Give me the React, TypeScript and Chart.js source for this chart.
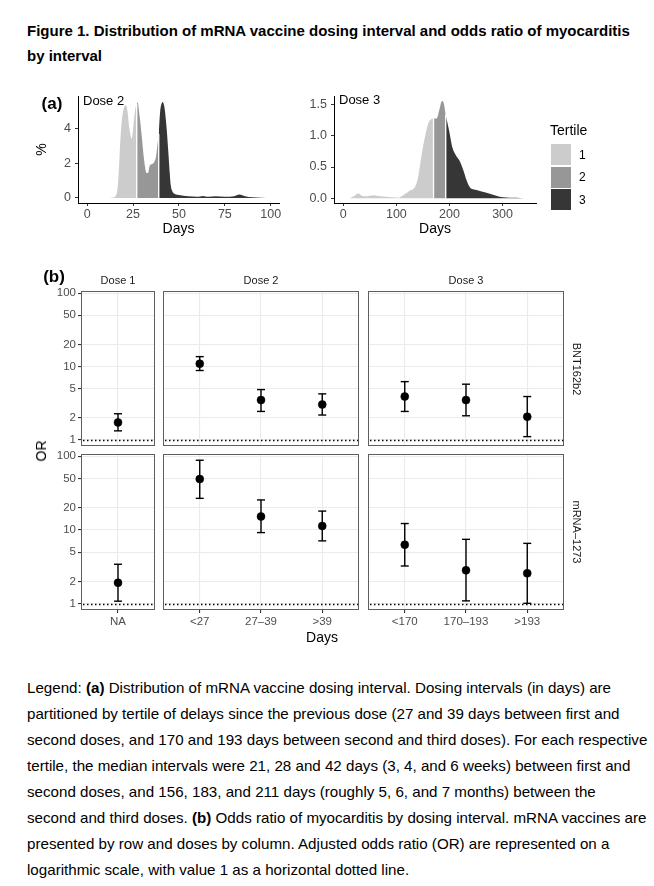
import React, { useEffect, useRef } from "react";
import { Chart, registerables } from "chart.js";

Chart.register(...registerables);

const FONT = '"Liberation Sans", Arial, Helvetica, sans-serif';

// ---------- Panel (a): distribution of dosing interval (%), by tertile ----------
const TERTILE_LABELS = ["1", "2", "3"];
const TERTILE_COLORS = ["#cccccc", "#979797", "#363636"];

const dose2T1Days = [12, 14, 15.5, 16.5, 17.2, 18, 18.8, 20, 21, 22, 23, 24.3, 25.2, 26.3, 27];
const dose2T1Pct = [0, 0.03, 0.12, 0.5, 1.5, 3.2, 4.4, 5.2, 5.37, 5.0, 4.0, 3.43, 4.2, 5.2, 5.45];
const dose2T2Days = [27, 27.5, 28.5, 29.7, 31, 32.3, 33.2, 34, 35, 36.4, 37.5, 38.4, 39];
const dose2T2Pct = [5.45, 5.52, 4.8, 3.6, 2.2, 1.45, 1.45, 1.85, 1.95, 2.05, 2.4, 3.2, 3.7];
const dose2T3Days = [39, 39.7, 40.5, 41.1, 42, 43.3, 44.2, 45, 45.5, 46.6, 48, 50, 55, 60, 63, 66, 70, 75, 80, 83, 86, 90, 95, 100];
const dose2T3Pct = [3.7, 4.95, 5.45, 5.56, 5.3, 4.0, 2.67, 1.4, 0.76, 0.34, 0.22, 0.17, 0.1, 0.07, 0.12, 0.07, 0.1, 0.07, 0.1, 0.2, 0.1, 0.04, 0.02, 0];

const dose3T1Days = [12, 20, 28, 36, 45, 56, 66, 75, 85, 94, 103, 110, 116, 125, 135, 141, 147, 154, 160, 166, 170];
const dose3T1Pct = [0, 0.03, 0.075, 0.035, 0.03, 0.045, 0.035, 0.025, 0.02, 0.015, 0.005, 0.03, 0.065, 0.12, 0.18, 0.34, 0.67, 0.99, 1.2, 1.27, 1.28];
const dose3T2Days = [170, 176, 181, 186, 189, 193];
const dose3T2Pct = [1.28, 1.28, 1.42, 1.56, 1.53, 1.34];
const dose3T3Days = [193, 199, 206, 212, 219, 226, 232, 238, 251, 270, 288, 301, 326, 340];
const dose3T3Pct = [1.33, 1.1, 0.8, 0.69, 0.6, 0.45, 0.29, 0.18, 0.13, 0.086, 0.04, 0.015, 0.005, 0];

const dose2XTicks = [0, 25, 50, 75, 100];
const dose2YTicks = [0, 2, 4];
const dose3XTicks = [0, 100, 200, 300];
const dose3YTicks = [0, 0.5, 1, 1.5];

// ---------- Panel (b): odds ratio of myocarditis by interval ----------
const dose1Cats = ["NA"];
const dose2Cats = ["<27", "27–39", ">39"];
const dose3Cats = ["<170", "170–193", ">193"];

const bntD1Or = [1.72];
const bntD1Lo = [1.32];
const bntD1Hi = [2.26];
const bntD2Or = [10.9, 3.47, 3.02];
const bntD2Lo = [8.8, 2.43, 2.17];
const bntD2Hi = [13.6, 4.83, 4.22];
const bntD3Or = [3.88, 3.47, 2.06];
const bntD3Lo = [2.43, 2.12, 1.1];
const bntD3Hi = [6.2, 5.72, 3.88];

const mrnaD1Or = [1.92];
const mrnaD1Lo = [1.08];
const mrnaD1Hi = [3.42];
const mrnaD2Or = [48.9, 15.2, 11.3];
const mrnaD2Lo = [26.8, 9.2, 7.1];
const mrnaD2Hi = [88, 25.5, 18.0];
const mrnaD3Or = [6.29, 2.83, 2.58];
const mrnaD3Lo = [3.24, 1.09, 1.01];
const mrnaD3Hi = [12.2, 7.45, 6.57];

const OR_TICKS = [1, 2, 5, 10, 20, 50, 100];
const REF_OR = 1;

// ---------- layout (page pixels) ----------
const PAD = 12;
const TICK_GREY = "#4d4d4d";

type Area = { l: number; t: number; r: number; b: number };

const ORCOLS: [number, number][] = [[81, 155], [163, 359], [368, 564]];
const ORROWS: [number, number][] = [[291, 446], [454, 610]];

function ChartCanvas(props: { left: number; top: number; width: number; height: number; make: () => any }) {
  const ref = useRef<HTMLCanvasElement | null>(null);
  useEffect(() => {
    const chart = new Chart(ref.current as HTMLCanvasElement, props.make());
    return () => chart.destroy();
  }, []);
  return (
    <canvas
      ref={ref}
      width={props.width}
      height={props.height}
      style={{ position: "absolute", left: props.left, top: props.top, width: props.width, height: props.height }}
    />
  );
}

// ---------- density chart ----------
function densityChart(opts: {
  area: Area;
  days: number[][];
  pct: number[][];
  xMin: number; xMax: number; yMin: number; yMax: number;
  xTicks: number[]; yTicks: number[];
  yFmt: (v: number) => string;
  yTitle?: string;
}) {
  const yW = 48;
  const xH = 37;
  const left = opts.area.l - yW;
  const top = opts.area.t - PAD;
  const width = opts.area.r + PAD - left;
  const height = opts.area.b + xH - top;
  const fills = opts.days.map((d, i) => ({
    data: d.map((x, j) => ({ x, y: opts.pct[i][j] })),
    fill: "origin",
    backgroundColor: TERTILE_COLORS[i],
    borderColor: "rgba(0,0,0,0)",
    borderWidth: 0,
    pointRadius: 0,
    cubicInterpolationMode: "monotone",
  }));
  const sep: any[] = [];
  opts.days.slice(0, -1).forEach((d, i) => {
    const n = d.length - 1;
    sep.push({ x: d[n], y: 0 }, { x: d[n], y: opts.pct[i][n] }, { x: d[n], y: null });
  });
  const make = () => ({
    type: "line",
    data: {
      datasets: [
        { data: sep, borderColor: "#ffffff", borderWidth: 1.3, pointRadius: 0, spanGaps: false, fill: false },
        ...fills,
      ],
    },
    options: {
      animation: false,
      responsive: false,
      events: [],
      layout: { padding: { left: 0, right: PAD, top: PAD, bottom: 0 } },
      plugins: { legend: { display: false }, tooltip: { enabled: false } },
      scales: {
        x: {
          type: "linear",
          min: opts.xMin,
          max: opts.xMax,
          afterBuildTicks: (s: any) => { s.ticks = opts.xTicks.map((v) => ({ value: v })); },
          afterFit: (s: any) => { s.height = xH; },
          ticks: { color: TICK_GREY, font: { family: FONT, size: 12.5 }, padding: 1, maxRotation: 0, autoSkip: false, callback: (v: any) => String(v) },
          grid: { drawOnChartArea: false, drawTicks: true, tickLength: 3, tickColor: "#333333" },
          border: { display: true, color: "#000000", width: 1 },
          title: { display: true, text: "Days", color: "#000000", font: { family: FONT, size: 14 }, padding: { top: 0, bottom: 2 } },
        },
        y: {
          type: "linear",
          min: opts.yMin,
          max: opts.yMax,
          afterBuildTicks: (s: any) => { s.ticks = opts.yTicks.map((v) => ({ value: v })); },
          afterFit: (s: any) => { s.width = yW; },
          ticks: { color: TICK_GREY, font: { family: FONT, size: 12.5 }, padding: 4, callback: (v: any) => opts.yFmt(v) },
          grid: { drawOnChartArea: false, drawTicks: true, tickLength: 3, tickColor: "#333333" },
          border: { display: true, color: "#000000", width: 1 },
          title: {
            display: !!opts.yTitle,
            text: opts.yTitle || "",
            color: "#000000",
            font: { family: FONT, size: 14 },
            padding: { top: 4, bottom: 0 },
          },
        },
      },
    },
  });
  return { left, top, width, height, make };
}

// ---------- odds ratio facet panel ----------
const panelBorder = {
  id: "panelBorder",
  afterDraw(chart: any) {
    const { ctx, chartArea: a } = chart;
    ctx.save();
    ctx.strokeStyle = "#5e5e5e";
    ctx.lineWidth = 1;
    ctx.strokeRect(Math.round(a.left) + 0.5, Math.round(a.top) + 0.5, Math.round(a.right - a.left) - 1, Math.round(a.bottom - a.top) - 1);
    ctx.restore();
  },
};

const refLine = {
  id: "refLine",
  beforeDatasetsDraw(chart: any) {
    const { ctx, chartArea: a } = chart;
    const y = Math.round(chart.scales.y.getPixelForValue(REF_OR)) + 0.5;
    ctx.save();
    ctx.strokeStyle = "#000000";
    ctx.lineWidth = 1.5;
    ctx.setLineDash([1.5, 2.5]);
    ctx.beginPath();
    ctx.moveTo(a.left + 2, y);
    ctx.lineTo(a.right - 1, y);
    ctx.stroke();
    ctx.restore();
  },
};

function orChart(opts: {
  col: number; row: number; cats: string[]; or: number[]; lo: number[]; hi: number[];
}) {
  const showY = opts.col === 0;
  const showX = opts.row === 1;
  const yW = showY ? 52 : 0;
  const xH = showX ? 22 : 0;
  const [al, ar] = ORCOLS[opts.col];
  const [at, ab] = ORROWS[opts.row];
  const left = al - (showY ? yW : PAD);
  const top = at - PAD;
  const width = ar + PAD - left;
  const height = ab + (showX ? xH : PAD) - top;
  const cats = opts.cats;
  const pts = cats.map((_, i) => ({ x: i + 1, y: opts.or[i] }));
  const bars: any[] = [];
  const caps: any[] = [];
  cats.forEach((_, i) => {
    bars.push({ x: i + 1, y: opts.lo[i] }, { x: i + 1, y: opts.hi[i] }, { x: i + 1, y: null });
    caps.push({ x: i + 1, y: opts.lo[i] }, { x: i + 1, y: opts.hi[i] });
  });
  const make = () => ({
    type: "line",
    data: {
      datasets: [
        { data: pts, showLine: false, pointStyle: "circle", pointRadius: 4, pointBackgroundColor: "#000000", pointBorderColor: "#000000", pointBorderWidth: 0.5 },
        { data: bars, borderColor: "#000000", borderWidth: 1.4, pointRadius: 0, spanGaps: false, fill: false },
        { data: caps, showLine: false, pointStyle: "line", pointRadius: 4, pointBorderColor: "#000000", pointBorderWidth: 1.4 },
      ],
    },
    plugins: [refLine, panelBorder],
    options: {
      animation: false,
      responsive: false,
      events: [],
      layout: { padding: { left: showY ? 0 : PAD, right: PAD, top: PAD, bottom: showX ? 0 : PAD } },
      plugins: { legend: { display: false }, tooltip: { enabled: false } },
      scales: {
        x: {
          type: "linear",
          min: 0.4,
          max: cats.length + 0.6,
          afterBuildTicks: (s: any) => { s.ticks = cats.map((_, i) => ({ value: i + 1 })); },
          afterFit: (s: any) => { s.height = xH; },
          ticks: {
            display: showX,
            color: TICK_GREY,
            font: { family: FONT, size: 11.5 },
            padding: 2,
            maxRotation: 0,
            autoSkip: false,
            callback: (v: any) => cats[Math.round(v) - 1],
          },
          grid: { color: "#ebebeb", lineWidth: 1.1, drawTicks: showX, tickLength: 3, tickColor: "#333333" },
          border: { display: false },
        },
        y: {
          type: "logarithmic",
          min: 0.82,
          max: 107,
          afterBuildTicks: (s: any) => { s.ticks = OR_TICKS.map((v) => ({ value: v })); },
          afterFit: (s: any) => { s.width = yW; },
          ticks: { display: showY, color: TICK_GREY, font: { family: FONT, size: 11.5 }, padding: 2, callback: (v: any) => String(v) },
          grid: { color: "#ebebeb", lineWidth: 1.1, drawTicks: showY, tickLength: 3, tickColor: "#333333" },
          border: { display: false },
        },
      },
    },
  });
  return { left, top, width, height, make };
}

// ---------- text helper ----------
function Txt(p: {
  x: number; y: number; size: number; children: React.ReactNode;
  bold?: boolean; color?: string; center?: boolean; rotate?: number;
}) {
  const tr = p.center
    ? `translate(-50%, -50%)${p.rotate ? ` rotate(${p.rotate}deg)` : ""}`
    : "translateY(-50%)";
  return (
    <div
      style={{
        position: "absolute",
        left: p.x,
        top: p.y,
        transform: tr,
        fontFamily: FONT,
        fontSize: p.size,
        fontWeight: p.bold ? 700 : 400,
        color: p.color || "#000000",
        whiteSpace: "nowrap",
        lineHeight: 1,
      }}
    >
      {p.children}
    </div>
  );
}

const PARA_LINES: React.ReactNode[] = [
  <>Legend: <b>(a)</b> Distribution of mRNA vaccine dosing interval. Dosing intervals (in days) are</>,
  <>partitioned by tertile of delays since the previous dose (27 and 39 days between first and</>,
  <>second doses, and 170 and 193 days between second and third doses). For each respective</>,
  <>tertile, the median intervals were 21, 28 and 42 days (3, 4, and 6 weeks) between first and</>,
  <>second doses, and 156, 183, and 211 days (roughly 5, 6, and 7 months) between the</>,
  <>second and third doses. <b>(b)</b> Odds ratio of myocarditis by dosing interval. mRNA vaccines are</>,
  <>presented by row and doses by column. Adjusted odds ratio (OR) are represented on a</>,
  <>logarithmic scale, with value 1 as a horizontal dotted line.</>,
];

export default function App() {
  const d2 = densityChart({
    area: { l: 78, t: 96, r: 279, b: 203 },
    days: [dose2T1Days, dose2T2Days, dose2T3Days],
    pct: [dose2T1Pct, dose2T2Pct, dose2T3Pct],
    xMin: -5, xMax: 104.5, yMin: -0.29, yMax: 5.9,
    xTicks: dose2XTicks, yTicks: dose2YTicks,
    yFmt: (v) => String(v),
    yTitle: "%",
  });
  const d3 = densityChart({
    area: { l: 334, t: 96, r: 536, b: 203 },
    days: [dose3T1Days, dose3T2Days, dose3T3Days],
    pct: [dose3T1Pct, dose3T2Pct, dose3T3Pct],
    xMin: -17.5, xMax: 363, yMin: -0.078, yMax: 1.64,
    xTicks: dose3XTicks, yTicks: dose3YTicks,
    yFmt: (v) => Number(v).toFixed(1),
  });

  const panels = [
    orChart({ col: 0, row: 0, cats: dose1Cats, or: bntD1Or, lo: bntD1Lo, hi: bntD1Hi }),
    orChart({ col: 1, row: 0, cats: dose2Cats, or: bntD2Or, lo: bntD2Lo, hi: bntD2Hi }),
    orChart({ col: 2, row: 0, cats: dose3Cats, or: bntD3Or, lo: bntD3Lo, hi: bntD3Hi }),
    orChart({ col: 0, row: 1, cats: dose1Cats, or: mrnaD1Or, lo: mrnaD1Lo, hi: mrnaD1Hi }),
    orChart({ col: 1, row: 1, cats: dose2Cats, or: mrnaD2Or, lo: mrnaD2Lo, hi: mrnaD2Hi }),
    orChart({ col: 2, row: 1, cats: dose3Cats, or: mrnaD3Or, lo: mrnaD3Lo, hi: mrnaD3Hi }),
  ];

  return (
    <div style={{ position: "absolute", left: 0, top: 0, width: 654, height: 886, background: "#ffffff", overflow: "hidden" }}>
      <div
        style={{
          position: "absolute", left: 27, top: 18, fontFamily: FONT, fontWeight: 700,
          fontSize: 15, lineHeight: "25px", color: "#000", whiteSpace: "nowrap",
        }}
      >
        Figure 1. Distribution of mRNA vaccine dosing interval and odds ratio of myocarditis
        <br />
        by interval
      </div>

      <ChartCanvas {...d2} />
      <ChartCanvas {...d3} />
      <Txt x={52} y={103} size={17} bold center>(a)</Txt>
      <Txt x={83} y={100} size={13}>Dose 2</Txt>
      <Txt x={339} y={99} size={13}>Dose 3</Txt>

      <Txt x={550} y={130} size={14}>Tertile</Txt>
      {TERTILE_LABELS.map((lab, i) => (
        <React.Fragment key={lab}>
          <div style={{ position: "absolute", left: 551, top: 144 + i * 22.5, width: 20, height: 21, background: TERTILE_COLORS[i] }} />
          <Txt x={579} y={154.5 + i * 22.5} size={12}>{lab}</Txt>
        </React.Fragment>
      ))}

      {panels.map((p, i) => <ChartCanvas key={i} {...p} />)}
      <Txt x={54} y={276} size={17} bold center>(b)</Txt>
      <Txt x={118} y={280} size={11} center color="#1a1a1a">Dose 1</Txt>
      <Txt x={261} y={280} size={11} center color="#1a1a1a">Dose 2</Txt>
      <Txt x={466} y={280} size={11} center color="#1a1a1a">Dose 3</Txt>
      <Txt x={576} y={368.5} size={11} center rotate={90} color="#1a1a1a">BNT162b2</Txt>
      <Txt x={576} y={532} size={11} center rotate={90} color="#1a1a1a">mRNA–1273</Txt>
      <Txt x={41} y={450.5} size={14} center rotate={-90}>OR</Txt>
      <Txt x={322} y={637} size={14} center>Days</Txt>

      <div
        style={{
          position: "absolute", left: 27, top: 675, fontFamily: FONT, fontSize: 15.15,
          lineHeight: "26px", color: "#000", whiteSpace: "nowrap",
        }}
      >
        {PARA_LINES.map((l, i) => <div key={i}>{l}</div>)}
      </div>
    </div>
  );
}
